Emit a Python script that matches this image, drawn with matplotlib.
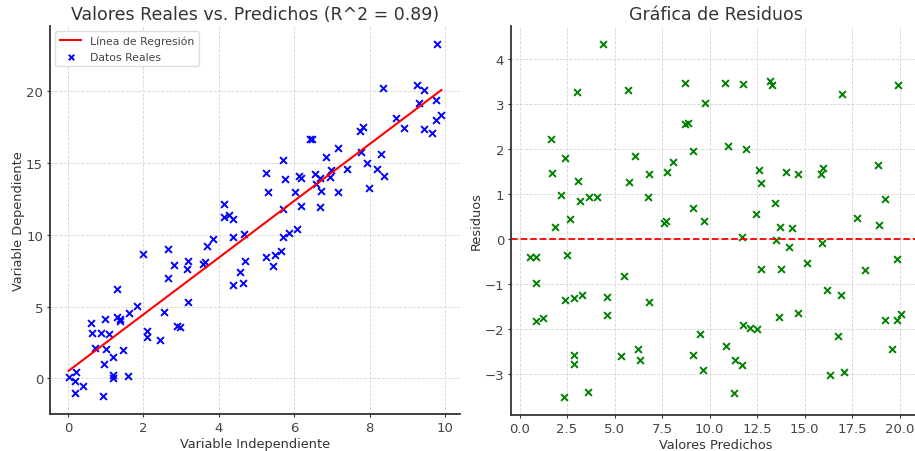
import matplotlib
matplotlib.use("Agg")
import matplotlib.pyplot as plt

# --- Data ---
x_real = [0.02, 0.21, 0.19, 0.20, 0.40, 0.61, 0.63, 0.71, 0.87, 0.98,
          1.10, 1.02, 0.97, 0.94, 1.20, 1.19, 1.19, 1.30, 1.30, 1.37,
          1.39, 1.45, 1.59, 1.61, 1.82, 1.98, 2.10, 2.10, 2.45, 2.54,
          2.65, 2.65, 2.82, 2.90, 2.97, 3.17, 3.19, 3.19, 3.58, 3.64,
          3.70, 3.84, 4.15, 4.15, 4.26, 4.39, 4.39, 4.37, 4.57, 4.63,
          4.69, 4.67, 5.24, 5.24, 5.30, 5.45, 5.49, 5.66, 5.70, 5.70,
          5.71, 5.76, 5.86, 6.07, 6.03, 6.12, 6.18, 6.18, 6.41, 6.48,
          6.54, 6.57, 6.68, 6.69, 6.72, 6.83, 6.94, 6.98, 7.16, 7.16,
          7.41, 7.74, 7.81, 7.78, 7.93, 7.99, 8.20, 8.29, 8.34, 8.39,
          8.70, 8.92, 9.25, 9.30, 9.44, 9.45, 9.65, 9.79, 9.77, 9.77,
          9.90]
y_real = [0.12, 0.42, -0.20, -1.02, -0.55, 3.84, 3.14, 2.15, 3.14, 4.12,
          3.07, 2.08, 0.97, -1.25, 1.46, 0.25, 0.00, 6.24, 4.30, 4.16,
          4.00, 2.01, 0.18, 4.55, 5.02, 8.67, 3.33, 2.91, 2.68, 4.62,
          9.00, 6.96, 7.88, 3.65, 3.60, 7.60, 8.18, 5.34, 7.93, 8.07,
          9.23, 9.73, 12.12, 11.24, 11.40, 11.10, 9.83, 6.50, 7.38, 6.66,
          8.16, 10.08, 14.27, 8.46, 12.99, 7.82, 8.62, 8.86, 15.17, 11.77,
          9.83, 13.85, 10.10, 10.43, 12.95, 14.08, 13.94, 12.00, 16.67, 16.67,
          14.20, 13.50, 11.90, 13.94, 13.06, 15.42, 14.01, 14.50, 16.05, 12.99,
          14.54, 17.25, 17.53, 15.79, 14.98, 13.27, 14.54, 15.63, 20.18, 14.08,
          18.15, 17.43, 20.42, 19.17, 20.09, 17.34, 17.09, 23.30, 19.35, 17.99,
          18.36]

line_x = [0.02, 9.90]
line_y = [0.53, 20.07]

pred = [4.38, 3.01, 5.72, 8.68, 8.70, 8.87, 9.13, 1.65, 1.73, 2.40,
        2.17, 1.86, 2.64, 3.06, 3.20, 3.66, 4.08, 5.74, 6.07, 6.79,
        6.74, 7.58, 7.68, 7.77, 8.07, 9.15,
        0.53, 0.88, 0.87, 0.88, 1.23, 2.50, 2.38, 2.84, 3.31, 2.85,
        2.85, 2.35, 3.61, 4.62, 4.62, 5.48, 5.32, 6.21, 6.35, 6.79,
        9.14,
        9.76, 9.71, 10.81, 11.76, 13.16, 13.28, 16.99, 19.90, 10.97, 11.90,
        12.60, 12.72, 14.00, 14.67, 15.84, 15.96, 18.85, 13.42, 12.43, 13.70,
        14.33, 17.74, 19.23, 18.90,
        11.71, 13.48, 14.17, 15.91, 12.70, 13.75, 15.12, 18.16, 19.84, 16.15,
        16.92, 13.67, 14.67, 19.23, 19.84, 20.09, 11.76, 12.11, 12.48, 9.52,
        9.63, 10.85, 11.34, 11.71, 11.27, 16.78, 16.35, 17.08, 19.58]
resid = [4.35, 3.28, 3.33, 3.47, 2.57, 2.58, 1.97, 2.22, 1.47, 1.81,
         0.99, 0.28, 0.45, 1.29, 0.84, 0.93, 0.93, 1.28, 1.84, 1.44,
         0.94, 0.36, 0.41, 1.49, 1.72, 0.69,
         -0.40, -0.40, -0.97, -1.82, -1.75, -0.36, -1.36, -1.30, -1.25, -2.58,
         -2.78, -3.52, -3.40, -1.28, -1.68, -0.83, -2.59, -2.45, -2.70, -1.39,
         -2.57,
         3.04, 0.41, 3.47, 3.45, 3.52, 3.42, 3.24, 3.44, 2.07, 2.00,
         1.53, 1.24, 1.49, 1.45, 1.46, 1.59, 1.64, 0.80, 0.57, 0.28,
         0.25, 0.47, 0.90, 0.31,
         0.05, -0.03, -0.18, -0.08, -0.67, -0.66, -0.54, -0.69, -0.45, -1.14,
         -1.25, -1.74, -1.65, -1.81, -1.81, -1.67, -1.90, -1.97, -2.01, -2.10,
         -2.92, -2.37, -2.70, -2.81, -3.43, -2.16, -3.03, -2.96, -2.45]

plt.rcParams['font.family'] = ['DejaVu Sans']

fig = plt.figure(figsize=(9.15, 4.52), dpi=100)
ax1 = fig.add_axes([50 / 915, 37 / 452, 410 / 915, 388 / 452])
ax2 = fig.add_axes([511 / 915, 36 / 452, 409 / 915, 389 / 452])


def style(ax):
    for side in ['top', 'right']:
        ax.spines[side].set_visible(False)
    for side in ['left', 'bottom']:
        ax.spines[side].set_color('#333333')
        ax.spines[side].set_linewidth(1.3)
    ax.tick_params(length=2.5, width=0.8, color='#333333', pad=2.5,
                   labelsize=9.5, labelcolor='#444444')
    ax.grid(True, linestyle='--', linewidth=0.6, color='#d5d5d5')
    ax.set_axisbelow(True)


# --- Left: real vs predicted ---
style(ax1)
ax1.plot(line_x, line_y, color='red', linewidth=1.5, label='Línea de Regresión')
ax1.scatter(x_real, y_real, marker='x', color='blue', s=24, linewidths=1.4,
            label='Datos Reales')
ax1.set_xticks([0, 2, 4, 6, 8, 10])
ax1.set_yticks([0, 5, 10, 15, 20])
ax1.set_title('Valores Reales vs. Predichos (R^2 = 0.89)', fontsize=12.5,
              color='#333333', pad=5)
ax1.set_xlabel('Variable Independiente', fontsize=9.3, color='#333333', labelpad=2)
ax1.set_ylabel('Variable Dependiente', fontsize=9.3, color='#333333', labelpad=1)
leg = ax1.legend(loc='upper left', fontsize=7.8, framealpha=1, edgecolor='#dddddd',
                 scatterpoints=1, markerscale=0.8)
for t in leg.get_texts():
    t.set_color('#444444')

# --- Right: residuals ---
style(ax2)
ax2.scatter(pred, resid, marker='x', color='green', s=24, linewidths=1.4)
ax2.axhline(0, color='red', linestyle='--', linewidth=1.3)
ax2.set_xticks([0, 2.5, 5, 7.5, 10, 12.5, 15, 17.5, 20])
ax2.set_yticks([-3, -2, -1, 0, 1, 2, 3, 4])
ax2.set_title('Gráfica de Residuos', fontsize=12.5, color='#333333', pad=5)
ax2.set_xlabel('Valores Predichos', fontsize=9.3, color='#333333', labelpad=2)
ax2.set_ylabel('Residuos', fontsize=9.3, color='#333333', labelpad=1)

fig.savefig('out.png', dpi=100)
